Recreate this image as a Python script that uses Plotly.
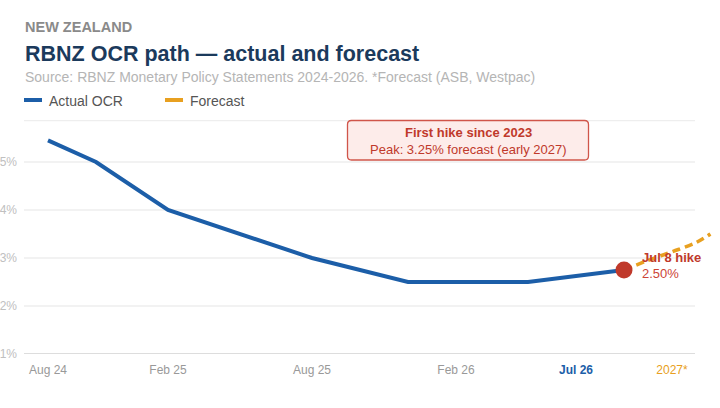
import plotly.graph_objects as go

# ---- data ----
actual_x = [0, 2, 5, 11, 15, 20, 24]
actual_y = [5.45, 5.0, 4.0, 3.0, 2.5, 2.5, 2.75]
forecast_x = [24, 25, 26, 27, 27.6]
forecast_y = [2.75, 2.95, 3.13, 3.32, 3.5]
hike_x = [24]
hike_y = [2.75]
tick_pos = [0, 5, 11, 17, 22, 26]
tick_labels = ["Aug 24", "Feb 25", "Aug 25", "Feb 26", "Jul 26", "2027*"]
ytick_vals = [1, 2, 3, 4, 5]
ytick_labels = ["1%", "2%", "3%", "4%", "5%"]

BLUE = "#1c5ea8"
ORANGE = "#e8a020"
RED = "#c0392b"
FONT = "Liberation Sans, Arial, sans-serif"

W, H = 720, 408
ML, MR, MT, MB = 24, 5, 120, 54
XR = [-1, -1 + (W - ML - MR) / 24.0]
YR = [1, 1 + (H - MT - MB) / 48.0]


def px(x):
    return (x - ML) / (W - ML - MR)


def py(y):
    return 1 - (y - MT) / (H - MT - MB)


def xu(p):
    return XR[0] + (p - ML) / 24.0


styled = []
for t in tick_labels:
    if t == "Jul 26":
        styled.append("<span style='color:%s'><b>%s</b></span>" % (BLUE, t))
    elif t.endswith("*"):
        styled.append("<span style='color:%s'>%s</span>" % (ORANGE, t))
    else:
        styled.append(t)

fig = go.Figure()

# gridlines
shapes = []
grid_end = xu(695)
for v in ytick_vals[1:]:
    shapes.append(dict(type="line", xref="x", yref="y", x0=XR[0], x1=grid_end, y0=v, y1=v,
                       line=dict(color="#eeeeee", width=1.5), layer="below"))
shapes.append(dict(type="line", xref="x", yref="y", x0=XR[0], x1=grid_end, y0=YR[1] - 0.01, y1=YR[1] - 0.01,
                   line=dict(color="#eeeeee", width=1.5), layer="below"))
shapes.append(dict(type="line", xref="x", yref="y", x0=XR[0], x1=grid_end, y0=1, y1=1,
                   line=dict(color="#dddddd", width=2), layer="below"))

fig.add_trace(go.Scatter(x=forecast_x, y=forecast_y, mode="lines",
                         line=dict(color=ORANGE, width=3.5, dash="8px,5px", shape="spline"),
                         showlegend=False, hoverinfo="skip"))
fig.add_trace(go.Scatter(x=actual_x, y=actual_y, mode="lines",
                         line=dict(color=BLUE, width=4), showlegend=False, hoverinfo="skip"))
fig.add_trace(go.Scatter(x=hike_x, y=hike_y, mode="markers",
                         marker=dict(color=RED, size=17, line=dict(width=0)),
                         showlegend=False, hoverinfo="skip"))

# callout box (rounded)
x0, x1, y0, y1, r = 347.5, 588.5, 120.5, 160, 4
path = "M {a},{b} L {c},{b} Q {d},{b} {d},{e} L {d},{f} Q {d},{g} {c},{g} L {a},{g} Q {h},{g} {h},{f} L {h},{e} Q {h},{b} {a},{b} Z".format(
    a=px(x0 + r), b=py(y0), c=px(x1 - r), d=px(x1), e=py(y0 + r), f=py(y1 - r), g=py(y1), h=px(x0))
shapes.append(dict(type="path", xref="paper", yref="paper", path=path,
                   fillcolor="#fdecea", line=dict(color="#d0554a", width=1.3), layer="above"))

# legend swatches
shapes.append(dict(type="line", xref="paper", yref="paper", x0=px(24), x1=px(42), y0=py(100), y1=py(100),
                   line=dict(color=BLUE, width=4)))
shapes.append(dict(type="line", xref="paper", yref="paper", x0=px(165), x1=px(183), y0=py(100), y1=py(100),
                   line=dict(color=ORANGE, width=4)))

anns = [
    dict(text="<b>NEW ZEALAND</b>", x=px(23), y=py(27), font=dict(size=14.5, color="#8a8a8a")),
    dict(text="<b>RBNZ OCR path — actual and forecast</b>", x=px(23), y=py(54), font=dict(size=21.5, color="#1b3a5c")),
    dict(text="Source: RBNZ Monetary Policy Statements 2024-2026. *Forecast (ASB, Westpac)", x=px(23), y=py(77),
         font=dict(size=14, color="#b5b5b5")),
    dict(text="Actual OCR", x=px(47), y=py(100.5), font=dict(size=14, color="#555555")),
    dict(text="Forecast", x=px(188), y=py(100.5), font=dict(size=14, color="#555555")),
    dict(text="<b>First hike since 2023</b>", x=px(468), y=py(132), xanchor="center", font=dict(size=13, color=RED)),
    dict(text="Peak: 3.25% forecast (early 2027)", x=px(468), y=py(149), xanchor="center", font=dict(size=13, color=RED)),
    dict(text="<b>Jul 8 hike</b>", x=px(640), y=py(257), font=dict(size=13, color=RED)),
    dict(text="2.50%", x=px(640), y=py(273), font=dict(size=13, color="#cc4436")),
]
for a in anns:
    a.setdefault("xanchor", "left")
    a.update(xref="paper", yref="paper", yanchor="middle", showarrow=False)
    a["font"]["family"] = FONT

fig.update_layout(
    width=W, height=H,
    margin=dict(l=ML, r=MR, t=MT, b=MB, autoexpand=False),
    paper_bgcolor="white", plot_bgcolor="white",
    font=dict(family=FONT),
    shapes=shapes, annotations=anns,
    showlegend=False,
    xaxis=dict(range=XR, tickmode="array", tickvals=tick_pos, ticktext=styled, automargin=False,
               showgrid=False, zeroline=False, showline=False, ticks="",
               tickfont=dict(size=12, color="#999999"), ticklabelstandoff=7, fixedrange=True),
    yaxis=dict(range=YR, tickmode="array", tickvals=ytick_vals, ticktext=ytick_labels, automargin=False,
               showgrid=False, zeroline=False, showline=False, ticks="",
               tickfont=dict(size=12, color="#c0c0c0"), ticklabelstandoff=6, fixedrange=True),
)

fig.write_html("out.html")
